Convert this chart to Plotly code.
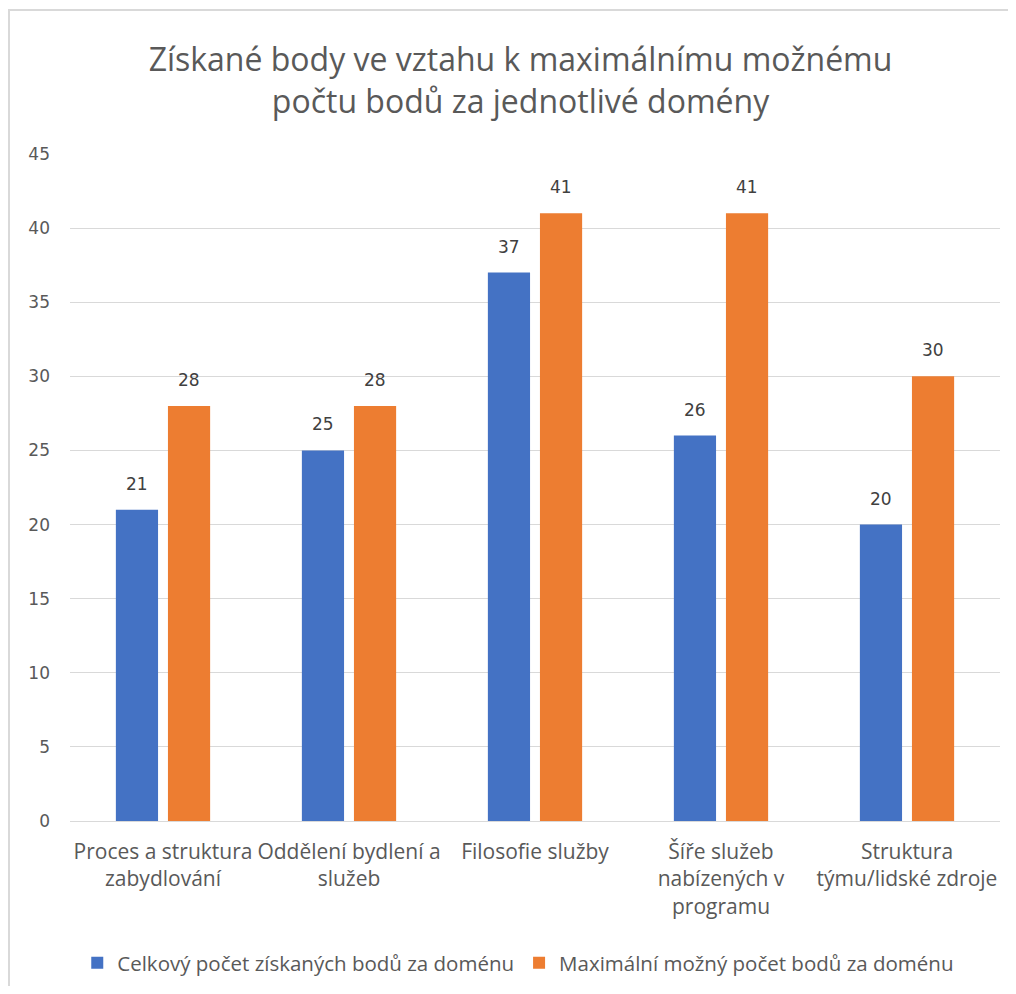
import plotly.graph_objects as go

categories = [
    "Proces a struktura<br>zabydlování",
    "Oddělení bydlení a<br>služeb",
    "Filosofie služby",
    "Šíře služeb<br>nabízených v<br>programu",
    "Struktura<br>týmu/lidské zdroje",
]
ziskane = [21, 25, 37, 26, 20]
maximalni = [28, 28, 41, 41, 30]
series_names = [
    "Celkový počet získaných bodů za doménu",
    "Maximální možný počet bodů za doménu",
]
y_ticks = [0, 5, 10, 15, 20, 25, 30, 35, 40, 45]

TEXT_FONT = "Open Sans"
NUM_FONT = "DejaVu Sans"
W, H = 1000, 978
L, R, T, B = 62, 8, 146, 165
PW, PH = W - L - R, H - T - B

fig = go.Figure()
fig.add_trace(go.Bar(
    x=categories, y=ziskane, name=series_names[0],
    marker=dict(color="#4472C4", line=dict(width=0)),
))
fig.add_trace(go.Bar(
    x=categories, y=maximalni, name=series_names[1],
    marker=dict(color="#ED7D31", line=dict(width=0)),
))

# data labels above the bars
for values, shift in ((ziskane, -26), (maximalni, 26)):
    for cat, v in zip(categories, values):
        fig.add_annotation(
            x=cat, y=v, xref="x", yref="y", text=str(v), showarrow=False,
            xshift=shift, yshift=26, yanchor="middle",
            font=dict(family=NUM_FONT, size=17, color="#404040"),
        )

fig.update_layout(
    width=W, height=H,
    paper_bgcolor="white", plot_bgcolor="white",
    margin=dict(l=L, r=R, t=T, b=B, autoexpand=False),
    barmode="group", bargap=0.44, bargroupgap=0.19,
    font=dict(family=TEXT_FONT, color="#595959"),
    title=dict(
        text="Získané body ve vztahu k maximálnímu možnému<br>počtu bodů za jednotlivé domény",
        x=0.4844, xanchor="center", xref="paper",
        y=1 - 63 / H, yanchor="middle",
        font=dict(size=32, color="#595959", family=TEXT_FONT),
    ),
    xaxis=dict(
        showgrid=False, showline=False, zeroline=False,
        tickfont=dict(size=21, color="#595959", family=TEXT_FONT),
        ticks="", ticklabelstandoff=16,
    ),
    yaxis=dict(
        range=[0, 45], tickvals=y_ticks,
        showgrid=True, gridcolor="#D9D9D9", gridwidth=1,
        zeroline=True, zerolinecolor="#D9D9D9", zerolinewidth=1,
        showline=False,
        tickfont=dict(size=17, color="#595959", family=NUM_FONT),
        ticklabelstandoff=19,
    ),
    legend=dict(
        orientation="h", x=0.482, xanchor="center",
        yref="container", y=1 - 955 / H, yanchor="middle",
        font=dict(size=20.5, color="#595959", family=TEXT_FONT),
        itemwidth=30, traceorder="normal",
    ),
    showlegend=True,
)
fig.add_shape(
    type="rect", xref="paper", yref="paper",
    x0=(1 - L) / PW, x1=(W + 20 - L) / PW,
    y0=-(B + 20) / PH, y1=(PH + T - 2) / PH,
    line=dict(color="#D9D9D9", width=2), fillcolor="rgba(0,0,0,0)",
    layer="below",
)
fig.write_html("out.html")
